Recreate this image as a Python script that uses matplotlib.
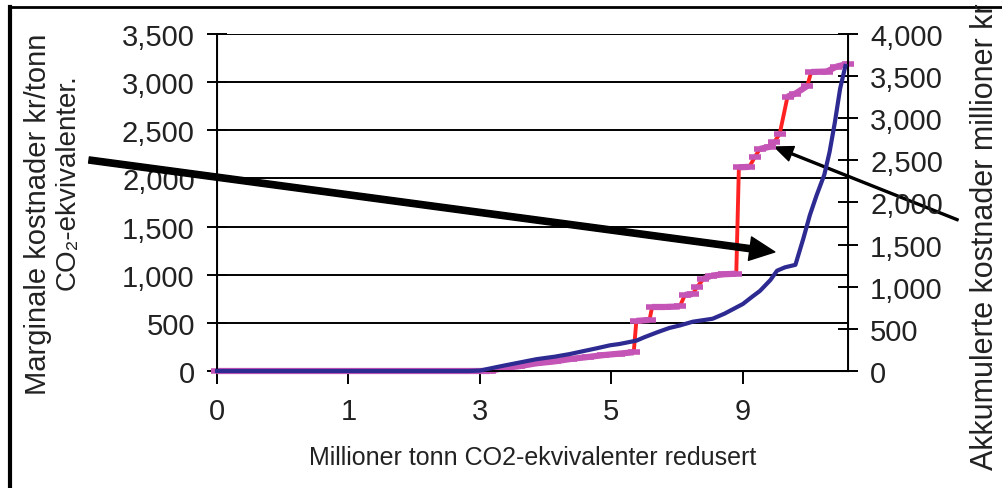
import numpy as np
import matplotlib.pyplot as plt
from matplotlib.collections import LineCollection
from matplotlib.lines import Line2D

plt.rcParams['font.family'] = ['Liberation Sans', 'DejaVu Sans']

# x positions are in category-axis units: tick k carries label tick_labels[k]
tick_labels = ['0', '1', '3', '5', '9']

# marginal cost, kr/tonn (left axis)
marg_x = [0.00, 0.63, 1.39, 2.08, 2.17, 2.30, 2.43, 2.57, 2.69, 2.82, 2.94,
          3.06, 3.17, 3.19, 3.29, 3.31, 3.41, 3.52, 3.56, 3.62, 3.65, 3.70,
          3.76, 3.86, 3.95, 3.97, 4.05, 4.09, 4.13, 4.21, 4.24, 4.28, 4.34,
          4.40, 4.49, 4.52, 4.64, 4.71, 4.80]
marg_y = [0, 0, 0, 0, 30, 50, 80, 100, 125, 145, 165,
          180, 195, 520, 530, 665, 665, 670, 790, 800, 870, 955,
          990, 1005, 1010, 2115, 2120, 2220, 2306, 2330, 2380, 2460, 2850,
          2880, 2960, 3105, 3110, 3160, 3190]

# accumulated cost, million kr (right axis)
akk_x = [0.00, 1.92, 2.00, 2.17, 2.30, 2.43, 2.57, 2.68, 2.80, 2.89, 2.99,
         3.06, 3.19, 3.25, 3.35, 3.44, 3.52, 3.62, 3.77, 3.86, 4.00, 4.07,
         4.13, 4.21, 4.26, 4.32, 4.40, 4.46, 4.51, 4.56, 4.62, 4.66, 4.70,
         4.74, 4.78]
akk_y = [0, 0, 5, 60, 100, 140, 170, 200, 240, 270, 305,
         320, 360, 400, 460, 510, 540, 585, 620, 680, 795, 880,
         950, 1080, 1190, 1230, 1260, 1570, 1850, 2080, 2330, 2600, 2950,
         3350, 3620]

red = '#ff2222'
pink = '#c455b6'
blue = '#2d2a92'
txt = '#222222'

fig = plt.figure(figsize=(10.02, 4.89), dpi=100)
ax = fig.add_axes([0.2166, 0.2393, 0.6297, 0.6892])
ax2 = ax.twinx()

# grid lines on the left scale
ax.set_ylim(0, 3500)
ax.set_yticks(np.arange(0, 3501, 500))
ax.yaxis.grid(True, color='black', lw=1.4)
ax.set_axisbelow(True)

# red step curve with pink dashes on the flatter parts
ax.plot(marg_x, marg_y, color=red, lw=2.8, zorder=3, clip_on=False)
mx = np.array(marg_x)
my = np.array(marg_y)
slope = np.diff(my) / np.diff(mx)
segs = [[(mx[i], my[i]), (mx[i + 1], my[i + 1])] for i in range(len(slope)) if slope[i] < 1500]
lc = LineCollection(segs, colors=pink, linewidths=4.5, zorder=4)
lc.set_clip_on(False)
ax.add_collection(lc)
ax.plot(marg_x, marg_y, ls='none', marker='_', ms=9, mew=4, color=pink, zorder=4, clip_on=False)

ax2.plot(akk_x, akk_y, color=blue, lw=3, zorder=5, clip_on=False)
ax2.set_ylim(0, 4000)
ax2.set_yticks(np.arange(0, 4001, 500))

ax.set_xlim(0, 4.80)
ax.set_xticks(range(len(tick_labels)))
ax.set_xticklabels(tick_labels)

for spine in ['left', 'bottom', 'right']:
    ax2.spines[spine].set_linewidth(1.4)
ax2.spines['top'].set_visible(False)
ax.spines['top'].set_visible(False)

fmt = lambda v, p: f'{int(v):,}'
ax.yaxis.set_major_formatter(plt.FuncFormatter(fmt))
ax2.yaxis.set_major_formatter(plt.FuncFormatter(fmt))

ax.tick_params(axis='y', direction='inout', length=14, width=1.4, pad=9, labelsize=21, labelcolor=txt)
ax.tick_params(axis='x', direction='out', length=9, width=1.4, pad=10, labelsize=21, labelcolor=txt)
ax2.tick_params(axis='y', direction='inout', length=14, width=1.4, pad=9, labelsize=21, labelcolor=txt)

ax.set_xlabel('Millioner tonn CO2-ekvivalenter redusert', fontsize=18, labelpad=14, color=txt)

fig.text(38 / 1002, 1 - 395 / 489, 'Marginale kostnader kr/tonn', rotation=90,
         ha='center', va='bottom', fontsize=21, color=txt)
fig.text(68 / 1002, 1 - 182 / 489, 'CO₂-ekvivalenter.', rotation=90,
         ha='center', va='center', fontsize=20, color=txt)
fig.text(985 / 1002, 1 - 470 / 489, 'Akkumulerte kostnader millioner kr', rotation=90,
         ha='center', va='bottom', fontsize=22, color=txt)

# arrows
ax.annotate('', xy=(4.243, 1236), xycoords='data', xytext=(89, 489 - 161),
            textcoords='figure pixels', annotation_clip=False,
            arrowprops=dict(facecolor='black', edgecolor='black', width=4.5,
                            headwidth=17, headlength=18, shrink=0))
ax.annotate('', xy=(4.243, 2326), xycoords='data', xytext=(958, 489 - 221),
            textcoords='figure pixels', annotation_clip=False,
            arrowprops=dict(facecolor='black', edgecolor='black', width=1.4,
                            headwidth=11, headlength=13, shrink=0))

# frame of the page
fig.add_artist(Line2D([10 / 1002, 10 / 1002], [0, 1 - 8 / 489], color='black', lw=3))
fig.add_artist(Line2D([10 / 1002, 1], [1 - 8 / 489, 1 - 8 / 489], color='black', lw=2))

fig.savefig('out.png', dpi=100)
